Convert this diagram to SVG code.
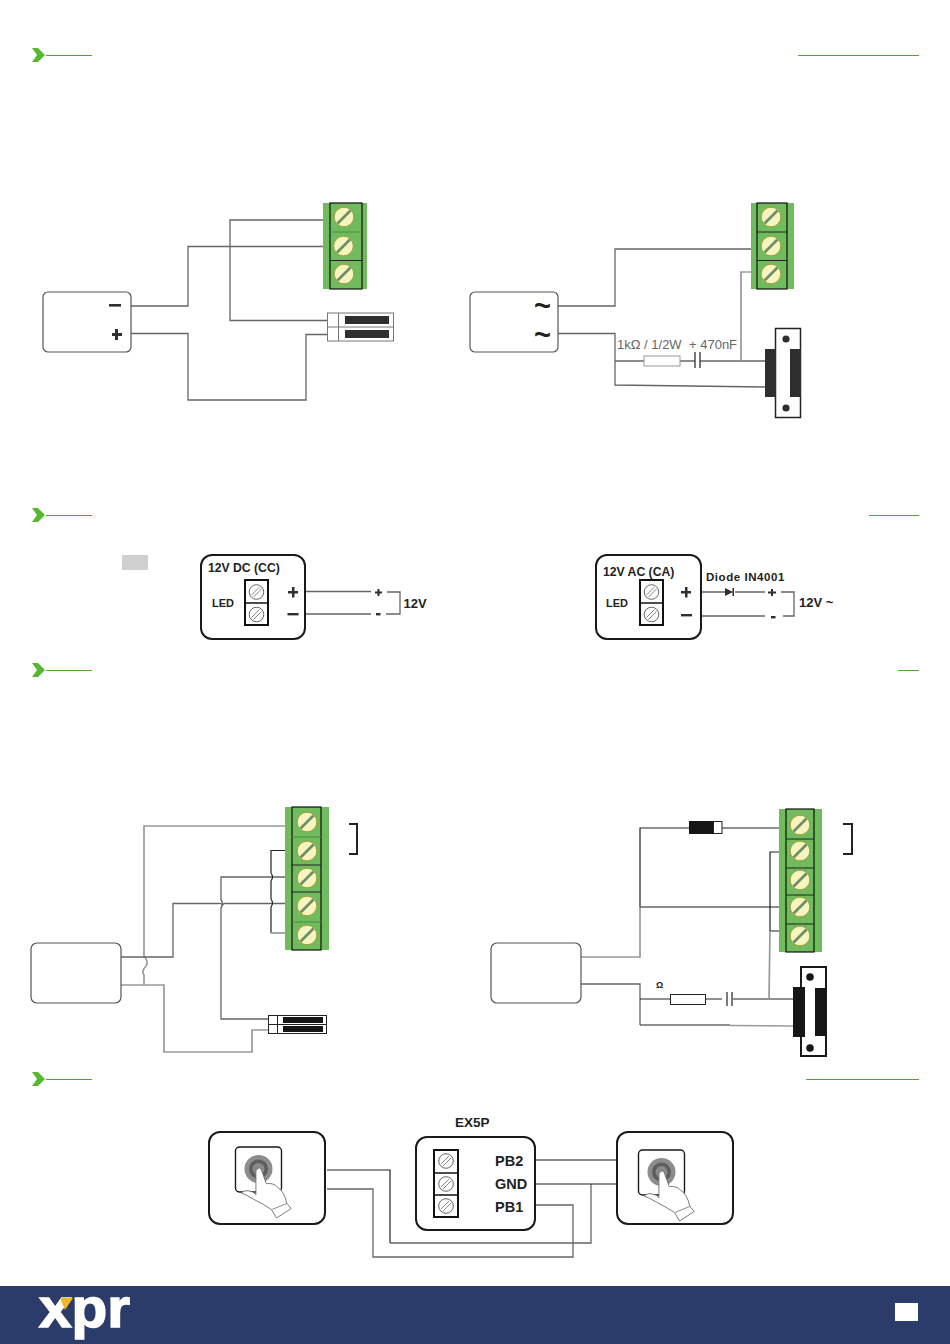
<svg xmlns="http://www.w3.org/2000/svg" width="950" height="1344" viewBox="0 0 950 1344">
<style>
.w{fill:none;stroke:#666;stroke-width:1.3}
.k{fill:none;stroke:#222;stroke-width:1.2}
.g{fill:none;stroke:#999;stroke-width:1.7}
.box{fill:#fff;stroke:#555;stroke-width:1.2}
.bb{fill:#fff;stroke:#1a1a1a;stroke-width:2}
.tb{fill:#6fbb5d}
.in{fill:#6fbb5d;stroke:#111;stroke-width:1.2}
.dv{stroke:#222;stroke-width:1}
.dv2{stroke:#4d8a42;stroke-width:1}
.b{font-family:"Liberation Sans",Arial,sans-serif;font-weight:700;fill:#222}
.s{font-family:"Liberation Sans",Arial,sans-serif;fill:#666;font-size:13px}
.hl{fill:none;stroke:#4fa82e;stroke-width:1.1}
.ch{fill:#56b82e}
.dark{fill:#2f2f2f}
.blk{fill:#161616}
</style>
<defs>
<g id="screw"><circle r="9.8" fill="#f7f5bd" stroke="#a3a03c" stroke-width="1"/><path d="M-6.500 6.500L6.500-6.500" stroke="#6c8f6a" stroke-width="2.600"/></g>
<g id="sm"><circle r="7.300" fill="#fff" stroke="#555" stroke-width="0.900"/><path d="M-5 3L3-5M-3 5L5-3" stroke="#777" stroke-width="0.900"/></g>
<g id="chev"><path class="ch" d="M0-7H6L13 0L6 7H0L5 0Z"/></g>
<g id="btn"><rect x="-23" y="-22" width="46" height="45" rx="4" fill="#fff" stroke="#1a1a1a" stroke-width="1.400"/><circle r="14" fill="#8d8d8d"/><circle r="9.500" fill="#5e5e5e"/><circle r="6" fill="#8a8a8a"/>
<g transform="scale(.86)"><path d="M-3 2Q0-3 3 0L9 17Q18 16 22 21Q30 26 33 40L38 46L21 57L15 47Q4 40-6 35Q-14 30-20 28Q-16 23-6 27L-3 30Z" fill="#fff" stroke="#666" stroke-width="1"/><path d="M33 40L16 47" fill="none" stroke="#666" stroke-width="0.900"/></g></g>
</defs>
<rect width="950" height="1344" fill="#fff"/>

<g id="section-headers">
<use href="#chev" x="32" y="55"/><path class="hl" d="M46 55.500H92M798 55.500H919"/>
<use href="#chev" x="32" y="515"/><path class="hl" d="M46 515.500H92M869 515.500H919"/>
<use href="#chev" x="32" y="670"/><path class="hl" d="M46 670.500H92M898 670.500H919"/>
<use href="#chev" x="32" y="1079"/><path class="hl" d="M46 1079.500H92M806 1079.500H919"/>
<rect x="122" y="555" width="26" height="15" fill="#cfcfcf"/>
</g>

<g id="connectors">
<path class="w" d="M131 306H188V246.500H323M131 333.500H188V400H306V334.500H328M323 220H230V320.500H328"/>
<path class="w" d="M558 306H615V249H751M558 333.500H615V385L765 387M615 361H644M680 361H695M700 361H765"/>
<path class="g" d="M741 361V272H751"/>
<path class="k" d="M695 352V368M700 352V368"/>
<path class="w" d="M268 592H281M268 615H281M305 591.500H371M305 614H371M387 592H400V614H386"/>
<path class="w" d="M663 592H676M663 615H676M700 592H725M735 592H765M701 616H765M781 592H794V616H783"/>
<path class="dark" d="M725 588L733 592L725 596ZM732.500 588H734V596H732.500Z"/>
<path class="g" d="M285 826H144V956Q149 962 146 966Q141 971 144 975V985"/>
<path class="g" d="M121 985H164V1052H252V1030H268"/>
<path class="w" d="M121 957H173V903.500H218Q223 903 222 906Q223 903 226 903.500H285"/>
<path class="w" d="M285 877H221V900Q224 904 221 908V1019H268"/>
<path class="k" d="M285 850.500H271V873Q274 877 271 881V899Q274 903 271 907V933"/>
<path class="g" d="M271 933H285"/>
<path class="k" style="stroke-width:2" d="M349 824H357V854H349M843 824H852V854H843"/>
<path class="k" d="M640 907V828H689M722 828H779"/>
<path class="g" d="M581 957H640V907"/>
<path class="w" d="M640 907H779"/>
<path class="w" d="M581 984H640V1025"/>
<path class="k" d="M640 1025H730M640 999H670M706 999H722M733 999H793M727 992V1006M732 992V1006M779 852H770V931H779"/>
<path class="g" d="M730 1025.500L793 1026M770 931L769 999"/>
<path class="k" d="M327 1170H390V1243"/>
<path class="w" d="M390 1243H591V1184M327 1189H373V1257H573V1205H536"/>
<path class="k" d="M535 1184H617"/>
<path class="w" d="M535 1160H617M458 1162H489M458 1184H484M458 1207H489"/>
</g>

<g id="psu-1"><rect class="box" x="43" y="292" width="88" height="60" rx="5"/><rect class="dark" x="109" y="304" width="12" height="2.600"/><path class="dark" d="M112 333H115V329H118V333H122V336H118V340H115V336H112Z"/></g>
<g id="terminal-1"><rect class="tb" x="323" y="203" width="44" height="86"/><rect class="in" x="330" y="203" width="32" height="86"/><path class="dv2" d="M330 232H362"/><path class="dv" d="M330 260.500H362"/><use href="#screw" x="344" y="217"/><use href="#screw" x="343.500" y="246"/><use href="#screw" x="344" y="274"/></g>
<g id="reed-1"><rect x="327.500" y="313" width="66" height="28" fill="#fff" stroke="#777"/><path d="M327.500 327H393.500M338.500 313V341" stroke="#777"/><rect class="dark" x="345" y="316" width="44" height="8"/><rect class="dark" x="345" y="330" width="44" height="8"/></g>

<g id="psu-2"><rect class="box" x="470" y="292" width="88" height="60" rx="5"/><text class="b" x="534" y="314.500" font-size="29">~</text><text class="b" x="534" y="344" font-size="29">~</text></g>
<g id="terminal-2"><rect class="tb" x="751" y="203" width="43" height="86"/><rect class="in" x="757" y="203" width="30" height="86"/><path class="dv" d="M757 232H787M757 260.500H787"/><use href="#screw" x="771" y="217"/><use href="#screw" x="771" y="246"/><use href="#screw" x="771" y="274"/></g>
<g id="rc-1"><rect x="644" y="356" width="36" height="10" fill="#fff" stroke="#999"/><text class="s" x="617" y="349">1kΩ / 1/2W</text><text class="s" x="689" y="349">+ 470nF</text></g>
<g id="strike-1"><rect x="775.500" y="328.500" width="25" height="89" fill="#fff" stroke="#222" stroke-width="1.500"/><rect class="dark" x="765" y="349" width="11" height="48"/><rect class="dark" x="790" y="349" width="11" height="48"/><circle class="dark" cx="786" cy="339" r="3.600"/><circle class="dark" cx="786" cy="408" r="3.600"/></g>

<g id="led-dc"><rect class="bb" x="201" y="555" width="104" height="84" rx="11"/><text class="b" x="208" y="572" font-size="12.200">12V DC (CC)</text><text class="b" x="212" y="607" font-size="11">LED</text><rect x="245" y="580" width="23" height="45" fill="#fff" stroke="#111" stroke-width="2"/><path d="M245 603H268" stroke="#111" stroke-width="1.500"/><use href="#sm" x="256.500" y="592"/><use href="#sm" x="256.500" y="614.500"/><path class="dark" d="M288 591H292V587H294.500V591H298V593.500H294.500V597.500H292V593.500H288Z"/><rect class="dark" x="287.500" y="613" width="11" height="2.400"/><path class="dark" d="M375 591.500H377.500V589H379.500V591.500H382V593.500H379.500V596H377.500V593.500H375Z"/><rect class="dark" x="376" y="613" width="4.500" height="2.400"/><text class="b" x="403.500" y="608" font-size="13">12V</text></g>
<g id="led-ac"><rect class="bb" x="596" y="555" width="105" height="84" rx="11"/><text class="b" x="603" y="576" font-size="12.200">12V AC (CA)</text><text class="b" x="606" y="607" font-size="11">LED</text><rect x="640" y="580" width="23" height="45" fill="#fff" stroke="#111" stroke-width="2"/><path d="M640 603H663" stroke="#111" stroke-width="1.500"/><use href="#sm" x="651.500" y="592"/><use href="#sm" x="651.500" y="614.500"/><path class="dark" d="M681 591H685V587H687.500V591H691V593.500H687.500V597.500H685V593.500H681Z"/><rect class="dark" x="681" y="614" width="11" height="2.400"/><path class="dark" d="M768 591.500H771V589H773V591.500H776V593.500H773V596H771V593.500H768Z"/><rect class="dark" x="771" y="616" width="4.500" height="2.400"/><text class="b" x="706" y="581" font-size="11.500" letter-spacing=".55">Diode IN4001</text><text class="b" x="799" y="607" font-size="13">12V ~</text></g>

<g id="psu-3"><rect class="box" x="31" y="943" width="90" height="60" rx="6"/></g>
<g id="terminal-3"><rect class="tb" x="285" y="807" width="44" height="143"/><rect class="in" x="292" y="807" width="29" height="143"/><path class="dv2" d="M292 837H321M292 922H321"/><path class="dv" d="M292 865H321M292 892H321"/><use href="#screw" x="307" y="822"/><use href="#screw" x="307" y="851"/><use href="#screw" x="307" y="878"/><use href="#screw" x="307" y="906"/><use href="#screw" x="307" y="935"/></g>
<g id="reed-2"><rect x="268.500" y="1015.500" width="58" height="18" fill="#fff" stroke="#222"/><path d="M268.500 1024.500H326.500M277.500 1015.500V1033.500" stroke="#222"/><rect class="blk" x="283" y="1017" width="40" height="6"/><rect class="blk" x="283" y="1026" width="40" height="6"/></g>

<g id="psu-4"><rect class="box" x="491" y="943" width="90" height="60" rx="6"/></g>
<g id="diode-1"><rect class="blk" x="689" y="821" width="25" height="13"/><rect x="713.500" y="821.500" width="8.500" height="12" fill="#fff" stroke="#222"/></g>
<g id="terminal-4"><rect class="tb" x="779" y="809" width="43" height="143"/><rect class="in" x="786" y="809" width="28" height="143"/><path class="dv" d="M786 839H814M786 868H814M786 895H814M786 924H814"/><use href="#screw" x="800" y="825"/><use href="#screw" x="800" y="851"/><use href="#screw" x="800" y="880"/><use href="#screw" x="800" y="907"/><use href="#screw" x="800" y="936"/></g>
<g id="rc-2"><rect x="670.500" y="994.500" width="35" height="10" fill="#fff" stroke="#222"/><text class="b" x="656" y="988" font-size="9">Ω</text></g>
<g id="strike-2"><rect x="801" y="967" width="25" height="89" fill="#fff" stroke="#1a1a1a" stroke-width="2"/><rect class="blk" x="793" y="987" width="12" height="50"/><rect class="blk" x="815" y="988" width="11" height="48"/><circle class="blk" cx="810" cy="977" r="3.800"/><circle class="blk" cx="810" cy="1048" r="3.800"/></g>

<g id="button-1"><rect class="bb" x="209" y="1132" width="116" height="92" rx="11"/><use href="#btn" x="258.500" y="1169"/></g>
<g id="ex5p"><text class="b" x="455" y="1127" font-size="13.500">EX5P</text><rect class="bb" x="416" y="1137" width="119" height="93" rx="11"/><rect x="434" y="1150" width="24" height="67" fill="#fff" stroke="#111" stroke-width="2"/><path d="M434 1173H458M434 1195H458" stroke="#111" stroke-width="1.500"/><use href="#sm" x="446" y="1161"/><use href="#sm" x="446" y="1184"/><use href="#sm" x="446" y="1206"/><text class="b" x="495" y="1165.500" font-size="14.500">PB2</text><text class="b" x="495" y="1188.500" font-size="14.500">GND</text><text class="b" x="495" y="1211.500" font-size="14.500">PB1</text></g>
<g id="button-2"><rect class="bb" x="617" y="1132" width="116" height="92" rx="11"/><use href="#btn" x="661.500" y="1172"/></g>

<g id="footer"><rect y="1286" width="950" height="58" fill="#2b3c6b"/><text x="39" y="1327" font-family="Liberation Sans,Arial,sans-serif" font-weight="700" font-size="56" fill="#fff" stroke="#fff" stroke-width="1.500" textLength="91" lengthAdjust="spacingAndGlyphs">xpr</text><path d="M60 1298H73L65 1310Z" fill="#f3b71f"/><rect x="895" y="1303" width="23" height="18" fill="#fff"/></g>
</svg>
